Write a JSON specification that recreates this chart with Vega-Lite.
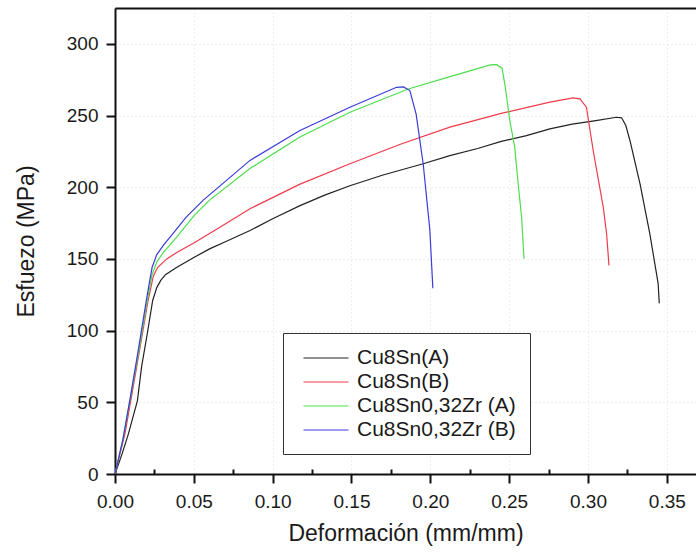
{
  "$schema": "https://vega.github.io/schema/vega-lite/v6.json",
  "width": 581,
  "height": 466,
  "autosize": {"type": "none"},
  "padding": {"left": 115, "top": 8, "right": 0, "bottom": 80},
  "background": "white",
  "config": {
    "view": {"stroke": null},
    "font": "Liberation Sans",
    "axis": {"labelFont": "Liberation Sans", "titleFont": "Liberation Sans", "labelColor": "#1a1a1a", "titleColor": "#1a1a1a", "titleFontWeight": "normal", "domainColor": "#111", "tickColor": "#111"}
  },
  "datasets": {
    "curves": [
      {"s": "Cu8Sn(A)", "x": 0, "y": 0},
      {"s": "Cu8Sn(A)", "x": 0.0045, "y": 14},
      {"s": "Cu8Sn(A)", "x": 0.0085, "y": 28},
      {"s": "Cu8Sn(A)", "x": 0.0142, "y": 51},
      {"s": "Cu8Sn(A)", "x": 0.0169, "y": 75},
      {"s": "Cu8Sn(A)", "x": 0.0205, "y": 98},
      {"s": "Cu8Sn(A)", "x": 0.0239, "y": 121},
      {"s": "Cu8Sn(A)", "x": 0.0265, "y": 130},
      {"s": "Cu8Sn(A)", "x": 0.029, "y": 135},
      {"s": "Cu8Sn(A)", "x": 0.032, "y": 139},
      {"s": "Cu8Sn(A)", "x": 0.039, "y": 144},
      {"s": "Cu8Sn(A)", "x": 0.05, "y": 151},
      {"s": "Cu8Sn(A)", "x": 0.06, "y": 157},
      {"s": "Cu8Sn(A)", "x": 0.07, "y": 162},
      {"s": "Cu8Sn(A)", "x": 0.086, "y": 170},
      {"s": "Cu8Sn(A)", "x": 0.1, "y": 178},
      {"s": "Cu8Sn(A)", "x": 0.117, "y": 187},
      {"s": "Cu8Sn(A)", "x": 0.133, "y": 194.5},
      {"s": "Cu8Sn(A)", "x": 0.149, "y": 201},
      {"s": "Cu8Sn(A)", "x": 0.17, "y": 208.5},
      {"s": "Cu8Sn(A)", "x": 0.1955, "y": 216.4},
      {"s": "Cu8Sn(A)", "x": 0.2124, "y": 222},
      {"s": "Cu8Sn(A)", "x": 0.23, "y": 227},
      {"s": "Cu8Sn(A)", "x": 0.245, "y": 232},
      {"s": "Cu8Sn(A)", "x": 0.261, "y": 236},
      {"s": "Cu8Sn(A)", "x": 0.2758, "y": 240.7},
      {"s": "Cu8Sn(A)", "x": 0.29, "y": 244},
      {"s": "Cu8Sn(A)", "x": 0.305, "y": 246.5},
      {"s": "Cu8Sn(A)", "x": 0.318, "y": 248.8},
      {"s": "Cu8Sn(A)", "x": 0.3213, "y": 248.4},
      {"s": "Cu8Sn(A)", "x": 0.324, "y": 243},
      {"s": "Cu8Sn(A)", "x": 0.3266, "y": 232.6},
      {"s": "Cu8Sn(A)", "x": 0.333, "y": 202.4},
      {"s": "Cu8Sn(A)", "x": 0.3392, "y": 167.6},
      {"s": "Cu8Sn(A)", "x": 0.3445, "y": 132.8},
      {"s": "Cu8Sn(A)", "x": 0.3452, "y": 119},

      {"s": "Cu8Sn(B)", "x": 0, "y": 0},
      {"s": "Cu8Sn(B)", "x": 0.0063, "y": 28},
      {"s": "Cu8Sn(B)", "x": 0.0138, "y": 75},
      {"s": "Cu8Sn(B)", "x": 0.021, "y": 121},
      {"s": "Cu8Sn(B)", "x": 0.0243, "y": 138},
      {"s": "Cu8Sn(B)", "x": 0.027, "y": 144},
      {"s": "Cu8Sn(B)", "x": 0.0328, "y": 150},
      {"s": "Cu8Sn(B)", "x": 0.04, "y": 155},
      {"s": "Cu8Sn(B)", "x": 0.0497, "y": 161},
      {"s": "Cu8Sn(B)", "x": 0.065, "y": 171},
      {"s": "Cu8Sn(B)", "x": 0.0856, "y": 185},
      {"s": "Cu8Sn(B)", "x": 0.117, "y": 202},
      {"s": "Cu8Sn(B)", "x": 0.149, "y": 216.4},
      {"s": "Cu8Sn(B)", "x": 0.181, "y": 230},
      {"s": "Cu8Sn(B)", "x": 0.2124, "y": 241.9},
      {"s": "Cu8Sn(B)", "x": 0.245, "y": 251.5},
      {"s": "Cu8Sn(B)", "x": 0.2758, "y": 259.3},
      {"s": "Cu8Sn(B)", "x": 0.2906, "y": 262.3},
      {"s": "Cu8Sn(B)", "x": 0.2949, "y": 261.6},
      {"s": "Cu8Sn(B)", "x": 0.299, "y": 255.8},
      {"s": "Cu8Sn(B)", "x": 0.3033, "y": 225.6},
      {"s": "Cu8Sn(B)", "x": 0.3097, "y": 186},
      {"s": "Cu8Sn(B)", "x": 0.3118, "y": 167.6},
      {"s": "Cu8Sn(B)", "x": 0.3133, "y": 145.5},

      {"s": "Cu8Sn0,32Zr (A)", "x": 0, "y": 0},
      {"s": "Cu8Sn0,32Zr (A)", "x": 0.005, "y": 24},
      {"s": "Cu8Sn0,32Zr (A)", "x": 0.0095, "y": 51.5},
      {"s": "Cu8Sn0,32Zr (A)", "x": 0.015, "y": 85},
      {"s": "Cu8Sn0,32Zr (A)", "x": 0.02, "y": 118},
      {"s": "Cu8Sn0,32Zr (A)", "x": 0.0235, "y": 139},
      {"s": "Cu8Sn0,32Zr (A)", "x": 0.0265, "y": 148},
      {"s": "Cu8Sn0,32Zr (A)", "x": 0.031, "y": 155},
      {"s": "Cu8Sn0,32Zr (A)", "x": 0.039, "y": 165},
      {"s": "Cu8Sn0,32Zr (A)", "x": 0.05, "y": 180},
      {"s": "Cu8Sn0,32Zr (A)", "x": 0.06, "y": 191},
      {"s": "Cu8Sn0,32Zr (A)", "x": 0.0856, "y": 213},
      {"s": "Cu8Sn0,32Zr (A)", "x": 0.1173, "y": 235},
      {"s": "Cu8Sn0,32Zr (A)", "x": 0.149, "y": 252.3},
      {"s": "Cu8Sn0,32Zr (A)", "x": 0.186, "y": 268.5},
      {"s": "Cu8Sn0,32Zr (A)", "x": 0.212, "y": 277},
      {"s": "Cu8Sn0,32Zr (A)", "x": 0.238, "y": 285.3},
      {"s": "Cu8Sn0,32Zr (A)", "x": 0.242, "y": 285.5},
      {"s": "Cu8Sn0,32Zr (A)", "x": 0.2455, "y": 283},
      {"s": "Cu8Sn0,32Zr (A)", "x": 0.2475, "y": 270},
      {"s": "Cu8Sn0,32Zr (A)", "x": 0.2505, "y": 246},
      {"s": "Cu8Sn0,32Zr (A)", "x": 0.2535, "y": 228},
      {"s": "Cu8Sn0,32Zr (A)", "x": 0.2557, "y": 202.4},
      {"s": "Cu8Sn0,32Zr (A)", "x": 0.2579, "y": 179},
      {"s": "Cu8Sn0,32Zr (A)", "x": 0.2594, "y": 150.2},

      {"s": "Cu8Sn0,32Zr (B)", "x": 0, "y": 0},
      {"s": "Cu8Sn0,32Zr (B)", "x": 0.005, "y": 24},
      {"s": "Cu8Sn0,32Zr (B)", "x": 0.0095, "y": 52},
      {"s": "Cu8Sn0,32Zr (B)", "x": 0.015, "y": 88},
      {"s": "Cu8Sn0,32Zr (B)", "x": 0.02, "y": 122},
      {"s": "Cu8Sn0,32Zr (B)", "x": 0.0235, "y": 144},
      {"s": "Cu8Sn0,32Zr (B)", "x": 0.0265, "y": 153},
      {"s": "Cu8Sn0,32Zr (B)", "x": 0.031, "y": 160},
      {"s": "Cu8Sn0,32Zr (B)", "x": 0.037, "y": 168},
      {"s": "Cu8Sn0,32Zr (B)", "x": 0.045, "y": 179},
      {"s": "Cu8Sn0,32Zr (B)", "x": 0.056, "y": 191},
      {"s": "Cu8Sn0,32Zr (B)", "x": 0.0856, "y": 218.7},
      {"s": "Cu8Sn0,32Zr (B)", "x": 0.1173, "y": 239.6},
      {"s": "Cu8Sn0,32Zr (B)", "x": 0.149, "y": 255.8},
      {"s": "Cu8Sn0,32Zr (B)", "x": 0.1786, "y": 269.7},
      {"s": "Cu8Sn0,32Zr (B)", "x": 0.183, "y": 270},
      {"s": "Cu8Sn0,32Zr (B)", "x": 0.187, "y": 267.4},
      {"s": "Cu8Sn0,32Zr (B)", "x": 0.191, "y": 251},
      {"s": "Cu8Sn0,32Zr (B)", "x": 0.1955, "y": 216},
      {"s": "Cu8Sn0,32Zr (B)", "x": 0.1997, "y": 170},
      {"s": "Cu8Sn0,32Zr (B)", "x": 0.2016, "y": 129.5}
    ]
  },
  "data": {"name": "curves"},
  "layer": [
    {
      "mark": {"type": "line", "strokeWidth": 1.2, "clip": true},
      "encoding": {
        "x": {
          "field": "x", "type": "quantitative",
          "scale": {"domain": [0, 0.3685], "nice": false, "zero": false},
          "axis": {
            "values": [0, 0.025, 0.05, 0.075, 0.1, 0.125, 0.15, 0.175, 0.2, 0.225, 0.25, 0.275, 0.3, 0.325, 0.35],
            "format": ".2f",
            "labelExpr": "abs(round(datum.value*20) - datum.value*20) > 0.01 ? '' : format(datum.value, '.2f')",
            "labelFontSize": 19,
            "labelPadding": 9,
            "labelFlush": false,
            "labelOverlap": false,
            "tickSize": {"condition": {"test": "abs(round(datum.value*20) - datum.value*20) > 0.01", "value": -5}, "value": 9},
            "tickWidth": 2,
            "domainWidth": 2,
            "grid": true,
            "gridColor": "#dcdcdc",
            "gridDash": [1, 3],
            "gridWidth": 1,
            "gridOpacity": {"condition": {"test": "abs(round(datum.value*20) - datum.value*20) > 0.01 || datum.value == 0", "value": 0}, "value": 1},
            "title": "Deformación (mm/mm)",
            "titleFontSize": 23,
            "titlePadding": 11
          }
        },
        "y": {
          "field": "y", "type": "quantitative",
          "scale": {"domain": [0, 325], "nice": false, "zero": true},
          "axis": {
            "values": [0, 25, 50, 75, 100, 125, 150, 175, 200, 225, 250, 275, 300],
            "labelExpr": "datum.value % 50 != 0 ? '' : format(datum.value, 'd')",
            "labelFontSize": 19,
            "labelPadding": 8,
            "labelFlush": false,
            "labelOverlap": false,
            "tickSize": {"condition": {"test": "datum.value % 50 != 0", "value": -6}, "value": 9},
            "tickWidth": 2,
            "domainWidth": 2,
            "grid": true,
            "gridColor": "#dcdcdc",
            "gridDash": [1, 3],
            "gridWidth": 1,
            "gridOpacity": {"condition": {"test": "datum.value % 50 != 0 || datum.value == 0", "value": 0}, "value": 1},
            "title": "Esfuezo (MPa)",
            "titleFontSize": 23,
            "titlePadding": 28
          }
        },
        "color": {
          "field": "s", "type": "nominal",
          "scale": {
            "domain": ["Cu8Sn(A)", "Cu8Sn(B)", "Cu8Sn0,32Zr (A)", "Cu8Sn0,32Zr (B)"],
            "range": ["#222222", "#ee3b4b", "#4ddd4d", "#3b3bd8"]
          },
          "legend": {
            "title": null,
            "orient": "none",
            "legendX": 168,
            "legendY": 325,
            "fillColor": "white",
            "strokeColor": "#333333",
            "padding": 14,
            "symbolType": "M-2.25,0H2.25",
            "symbolSize": 400,
            "symbolStrokeWidth": 1.2,
            "symbolOffset": 18,
            "labelFontSize": 21,
            "labelFont": "Liberation Sans",
            "labelColor": "#1a1a1a",
            "labelOffset": 20,
            "rowPadding": 3,
            "labelLimit": 300
          }
        }
      }
    },
    {
      "mark": {"type": "line", "strokeOpacity": 0},
      "encoding": {
        "x": {
          "field": "x", "type": "quantitative",
          "axis": {"orient": "top", "labels": false, "ticks": false, "grid": false, "title": null, "domainWidth": 2, "domainColor": "#111"}
        },
        "y": {"field": "y", "type": "quantitative"}
      }
    }
  ],
  "resolve": {"axis": {"x": "independent"}}
}
